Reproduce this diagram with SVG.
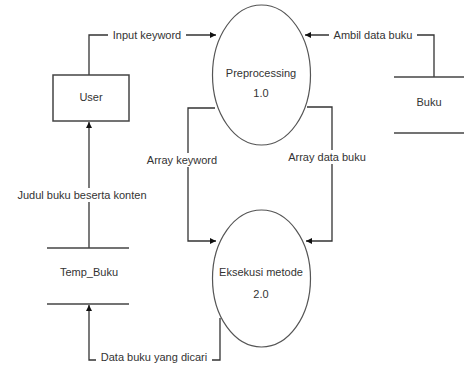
<svg xmlns="http://www.w3.org/2000/svg" width="464" height="365" viewBox="0 0 464 365">
  <style>
    .proc { fill: #fff; stroke: #555; stroke-width: 1.2; }
    .ent { fill: #fff; stroke: #444; stroke-width: 1.5; }
    .store { stroke: #444; stroke-width: 1.5; }
    .flow { fill: none; stroke: #333; stroke-width: 1.3; }
    .lbg { fill: #fff; }
    text { font-family: "Liberation Sans", Arial, sans-serif; font-size: 11px; fill: #333; text-anchor: middle; }
  </style>
  <defs>
    <marker id="arr" viewBox="0 0 10 10" refX="10" refY="5" markerWidth="6" markerHeight="6" markerUnits="userSpaceOnUse" orient="auto">
      <path d="M0,0 L10,5 L0,10 Z" fill="#111"/>
    </marker>
  </defs>

  <!-- data flows -->
  <g id="connectors">
    <path class="flow" d="M89,75 V35 H216" marker-end="url(#arr)"/>
    <path class="flow" d="M434,77 V35 H305" marker-end="url(#arr)"/>
    <path class="flow" d="M215,108 H188 V241 H216" marker-end="url(#arr)"/>
    <path class="flow" d="M307,107 H332 V241 H306" marker-end="url(#arr)"/>
    <path class="flow" d="M89,248 V122" marker-end="url(#arr)"/>
    <path class="flow" d="M220,318 V360 H89 V305" marker-end="url(#arr)"/>

    <rect class="lbg" x="108" y="28" width="78" height="14"/>
    <text x="147" y="39">Input keyword</text>
    <rect class="lbg" x="329" y="28" width="88" height="14"/>
    <text x="373" y="39">Ambil data buku</text>
    <rect class="lbg" x="145" y="153" width="75" height="14"/>
    <text x="182" y="164">Array keyword</text>
    <rect class="lbg" x="283" y="150" width="88" height="14"/>
    <text x="327" y="161">Array data buku</text>
    <rect class="lbg" x="11" y="188" width="143" height="14"/>
    <text x="82" y="199">Judul buku beserta konten</text>
    <rect class="lbg" x="96" y="350" width="116" height="14"/>
    <text x="154" y="361">Data buku yang dicari</text>
  </g>

  <!-- external entity -->
  <g id="user">
    <rect class="ent" x="53" y="75" width="76" height="46"/>
    <text x="91" y="101">User</text>
  </g>

  <!-- processes -->
  <g id="preprocessing">
    <ellipse class="proc" cx="261.5" cy="75" rx="49" ry="70"/>
    <text x="261" y="77">Preprocessing</text>
    <text x="261" y="97">1.0</text>
  </g>
  <g id="eksekusi-metode">
    <ellipse class="proc" cx="261.5" cy="278.5" rx="49" ry="68.5"/>
    <text x="261" y="276">Eksekusi metode</text>
    <text x="261" y="298">2.0</text>
  </g>

  <!-- data stores -->
  <g id="buku">
    <line class="store" x1="394" y1="77" x2="464" y2="77"/>
    <line class="store" x1="394" y1="133" x2="464" y2="133"/>
    <text x="429" y="106">Buku</text>
  </g>
  <g id="temp-buku">
    <line class="store" x1="47" y1="248" x2="129" y2="248"/>
    <line class="store" x1="47" y1="304" x2="129" y2="304"/>
    <text x="89" y="276">Temp_Buku</text>
  </g>
</svg>
